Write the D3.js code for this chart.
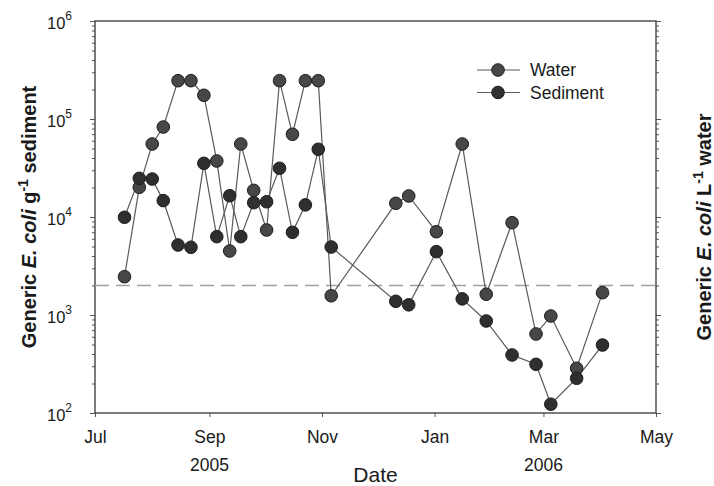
<!DOCTYPE html>
<html>
<head>
<meta charset="utf-8">
<script src="https://cdn.jsdelivr.net/npm/d3@7"></script>
<style>
  body { margin: 0; background: #fff; }
  text { font-family: "Liberation Sans", Arial, sans-serif; fill: #1a1a1a; }
</style>
</head>
<body>
<div class="chart"></div>
<script>
// sampling dates and counts
var sampleDates = ["2005-07-17", "2005-07-25", "2005-08-01", "2005-08-07", "2005-08-15", "2005-08-22",
  "2005-08-29", "2005-09-05", "2005-09-12", "2005-09-18", "2005-09-25", "2005-10-02", "2005-10-09",
  "2005-10-16", "2005-10-23", "2005-10-30", "2005-11-06", "2005-12-11", "2005-12-18", "2006-01-02",
  "2006-01-16", "2006-01-29", "2006-02-12", "2006-02-25", "2006-03-05", "2006-03-19", "2006-04-02"];

var waterCounts = [2460, 20100, 55600, 82800, 246000, 246000, 174600, 37300, 4500, 55600, 18700, 7370,
  246000, 69800, 246000, 246000, 1570, 13800, 16400, 7080, 55600, 1630, 8750, 640, 977, 286, 1690];

var sedimentCounts = [9930, 24800, 24400, 14700, 5180, 4910, 35300, 6300, 16500, 6300, 14000, 14300,
  31400, 6980, 13300, 49100, 4940, 1380, 1270, 4430, 1460, 869, 391, 314, 123, 226, 494];

var thresholdValue = 2000;

var xTickDates = ["2005-07-01", "2005-09-01", "2005-11-01", "2006-01-01", "2006-03-01", "2006-05-01"];
var xTickLabels = ["Jul", "Sep", "Nov", "Jan", "Mar", "May"];
var yearDates = ["2005-09-01", "2006-03-01"];
var yearLabels = ["2005", "2006"];
var yDecades = [2, 3, 4, 5, 6];

var svgWidth = 714;
var svgHeight = 486;
var margin = { top: 21, right: 58, bottom: 73, left: 95 };
var width = svgWidth - margin.left - margin.right;
var height = svgHeight - margin.top - margin.bottom;

var parseDate = d3.timeParse("%Y-%m-%d");

var svg = d3.select(".chart")
  .append("svg")
  .attr("width", svgWidth)
  .attr("height", svgHeight);

var chart = svg.append("g")
  .attr("transform", "translate(" + margin.left + "," + margin.top + ")");

var xTimeScale = d3.scaleTime()
  .domain([parseDate(xTickDates[0]), parseDate(xTickDates[xTickDates.length - 1])])
  .range([0, width]);

var yLogScale = d3.scaleLog()
  .domain([1e2, 1e6])
  .range([height, 0]);

// minor ticks 2..9 in each decade
var minorTicks = [];
yDecades.slice(0, -1).forEach(function(p) {
  for (var k = 2; k <= 9; k++) minorTicks.push(k * Math.pow(10, p));
});
var majorTicks = yDecades.map(function(p) { return Math.pow(10, p); });

// left axis
chart.append("g")
  .call(d3.axisLeft(yLogScale).tickValues(minorTicks).tickSize(3).tickFormat(""));
var leftMajor = chart.append("g")
  .call(d3.axisLeft(yLogScale).tickValues(majorTicks).tickSize(5).tickPadding(18).tickFormat(function() { return ""; }));

leftMajor.selectAll(".tick text")
  .attr("font-size", 16.5)
  .attr("dy", "0.45em")
  .each(function(d) {
    var t = d3.select(this);
    t.text("10");
    t.append("tspan")
      .attr("font-size", 12)
      .attr("dy", "-0.75em")
      .text(Math.round(Math.log10(d)));
  });

// right axis ticks, no labels
chart.append("g")
  .attr("transform", "translate(" + width + ",0)")
  .call(d3.axisRight(yLogScale).tickValues(minorTicks).tickSize(3).tickFormat(""));
chart.append("g")
  .attr("transform", "translate(" + width + ",0)")
  .call(d3.axisRight(yLogScale).tickValues(majorTicks).tickSize(5).tickFormat(""));

// bottom axis
var bottomAxis = d3.axisBottom(xTimeScale)
  .tickValues(xTickDates.map(parseDate))
  .tickSize(4)
  .tickPadding(14)
  .tickFormat(function(d, i) { return xTickLabels[i]; });

var xAxisG = chart.append("g")
  .attr("transform", "translate(0," + height + ")")
  .call(bottomAxis);
xAxisG.selectAll(".tick text").attr("font-size", 17.5);

chart.selectAll(".year-label")
  .data(yearDates)
  .enter().append("text")
  .attr("class", "year-label")
  .attr("x", function(d) { return xTimeScale(parseDate(d)); })
  .attr("y", height + 58)
  .attr("text-anchor", "middle")
  .attr("font-size", 17.5)
  .text(function(d, i) { return yearLabels[i]; });

chart.selectAll(".domain").remove();
chart.selectAll(".tick line").attr("stroke", "#555");

// frame
chart.append("rect")
  .attr("width", width)
  .attr("height", height)
  .attr("fill", "none")
  .attr("stroke", "#444")
  .attr("stroke-width", 1.4);

// threshold line
chart.append("line")
  .attr("x1", 0)
  .attr("x2", width)
  .attr("y1", yLogScale(thresholdValue))
  .attr("y2", yLogScale(thresholdValue))
  .attr("stroke", "#a0a0a0")
  .attr("stroke-width", 1.4)
  .attr("stroke-dasharray", "14,7");

var series = [
  { name: "Water", values: waterCounts, fill: "#474747" },
  { name: "Sediment", values: sedimentCounts, fill: "#2f2f2f" }
];

var line = d3.line()
  .x(function(d, i) { return xTimeScale(parseDate(sampleDates[i])); })
  .y(function(d) { return yLogScale(d); });

series.forEach(function(s) {
  chart.append("path")
    .datum(s.values)
    .attr("fill", "none")
    .attr("stroke", "#5a5a5a")
    .attr("stroke-width", 1.2)
    .attr("d", line);
});

series.forEach(function(s) {
  chart.append("g").selectAll("circle")
    .data(s.values)
    .enter().append("circle")
    .attr("cx", function(d, i) { return xTimeScale(parseDate(sampleDates[i])); })
    .attr("cy", function(d) { return yLogScale(d); })
    .attr("r", 6.3)
    .attr("fill", s.fill)
    .attr("stroke", "#1e1e1e")
    .attr("stroke-width", 1);
});

// legend
var legend = chart.append("g")
  .attr("transform", "translate(" + (477 - margin.left) + "," + (70 - margin.top) + ")");
series.forEach(function(s, i) {
  var row = legend.append("g").attr("transform", "translate(0," + (i * 22.5) + ")");
  row.append("line").attr("x1", 0).attr("x2", 43).attr("stroke", "#5a5a5a").attr("stroke-width", 1.2);
  row.append("circle").attr("cx", 21).attr("r", 6.3).attr("fill", s.fill).attr("stroke", "#1e1e1e");
  row.append("text").attr("x", 53).attr("dy", "0.36em").attr("font-size", 17.5).text(s.name);
});

// axis titles
svg.append("text")
  .attr("x", margin.left + width / 2)
  .attr("y", 482)
  .attr("text-anchor", "middle")
  .attr("font-size", 21)
  .text("Date");

var leftTitle = svg.append("text")
  .attr("transform", "translate(36,217) rotate(-90)")
  .attr("text-anchor", "middle")
  .attr("font-size", 20)
  .attr("font-weight", "bold");
leftTitle.append("tspan").text("Generic ");
leftTitle.append("tspan").attr("font-style", "italic").text("E. coli");
leftTitle.append("tspan").text(" g");
leftTitle.append("tspan").attr("font-size", 14).attr("dy", "-0.6em").text("-1");
leftTitle.append("tspan").attr("dy", "0.42em").text(" sediment");

var rightTitle = svg.append("text")
  .attr("transform", "translate(711,227) rotate(-90)")
  .attr("text-anchor", "middle")
  .attr("font-size", 20)
  .attr("font-weight", "bold");
rightTitle.append("tspan").text("Generic ");
rightTitle.append("tspan").attr("font-style", "italic").text("E. coli");
rightTitle.append("tspan").text(" L");
rightTitle.append("tspan").attr("font-size", 14).attr("dy", "-0.6em").text("-1");
rightTitle.append("tspan").attr("dy", "0.42em").text(" water");
</script>
</body>
</html>
